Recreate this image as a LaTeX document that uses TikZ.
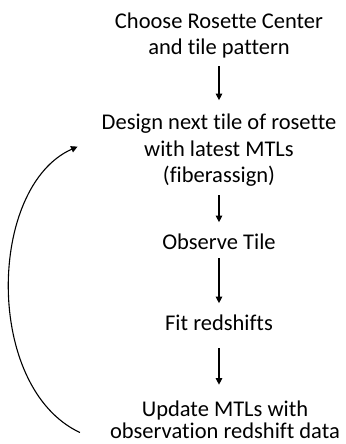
\documentclass[tikz,border=0pt]{standalone}
\usepackage{fontspec}
\setmainfont{Carlito}[Ligatures=NoCommon]
\usetikzlibrary{arrows.meta}
\tikzset{
  steptext/.style={align=center, inner sep=0pt, anchor=base, font=\fontsize{22.5bp}{26.5bp}\selectfont},
  flow/.style={-{Triangle[length=6.5bp,width=6.5bp]}, line width=1.1bp},
}

\begin{document}
\begin{tikzpicture}[x=1bp,y=-1bp]
  \useasboundingbox (0,0) rectangle (345,444);
  % the steps, top to bottom (base = last line)
  \node[steptext] (choose) at (219,55) {Choose Rosette Center\\and tile pattern};
  \node[steptext] (design) at (219,183) {Design next tile of rosette\\with latest MTLs\\(fiberassign)};
  \node[steptext] (observe) at (219,249) {Observe Tile};
  \node[steptext] (fit) at (219,330) {Fit redshifts};
  \node[steptext, font=\fontsize{22.5bp}{21.5bp}\selectfont] (update) at (225,438) {Update MTLs with\\observation redshift data};
  % arrows between the steps
  \draw[flow, shorten <=7.6bp, shorten >=14bp] (choose) -- (design);
  \draw[flow, shorten <=8.4bp, shorten >=11bp] (design) -- (observe);
  \draw[flow, shorten <=9bp, shorten >=11bp] (observe) -- (fit);
  \draw[flow, shorten <=18bp, shorten >=16bp] (fit.south) -- (fit.south |- update.north);
  % loop back to the next tile
  \draw[flow] ([xshift=-30bp,yshift=-13bp]update.west) .. controls +(-96,-45) and +(-90,40) .. ([xshift=-24bp,yshift=4bp]design.west);
\end{tikzpicture}
\end{document}
